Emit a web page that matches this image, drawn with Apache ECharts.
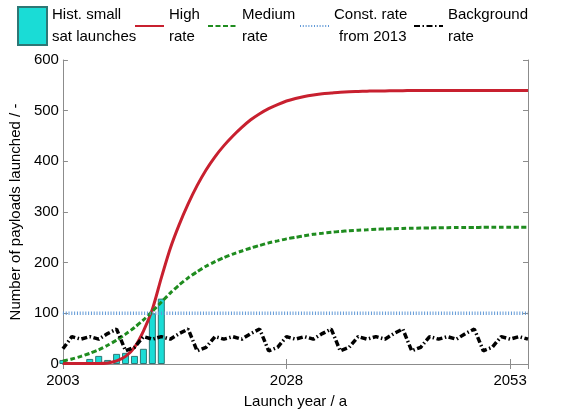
<!DOCTYPE html>
<html>
<head>
<meta charset="utf-8">
<script src="https://cdn.jsdelivr.net/npm/echarts@6/dist/echarts.min.js"></script>
<style>
  html, body { margin: 0; padding: 0; background: #fff; }
  #chart { width: 566px; height: 414px; }
</style>
</head>
<body>
<div id="chart"></div>
<script>
// Launch years covered by the scenario curves
const years = [
  2003, 2004, 2005, 2006, 2007, 2008, 2009, 2010, 2011, 2012,
  2013, 2014, 2015, 2016, 2017, 2018, 2019, 2020, 2021, 2022,
  2023, 2024, 2025, 2026, 2027, 2028, 2029, 2030, 2031, 2032,
  2033, 2034, 2035, 2036, 2037, 2038, 2039, 2040, 2041, 2042,
  2043, 2044, 2045, 2046, 2047, 2048, 2049, 2050, 2051, 2052,
  2053, 2054, 2055
];

// Historical small satellite launches per year
const histYears = [2003, 2006, 2007, 2008, 2009, 2010, 2011, 2012, 2013, 2014];
const histLaunches = [8, 10, 16, 8, 20, 22, 16, 30, 100, 129];

// High launch rate scenario (payloads per year)
const highRate = [
  1, 1, 1, 1, 1, 2, 6, 15, 33, 65,
  108, 170, 228, 275, 316, 352, 383, 409, 431, 450,
  467, 482, 494, 504, 512, 519, 524, 528, 531, 533.5,
  535, 536.5, 537.5, 538, 538.5, 539, 539, 539.5, 539.5, 539.7,
  539.8, 540, 540, 540, 540, 540, 540, 540, 540, 540,
  540, 540, 540
];

// Medium launch rate scenario
const mediumRate = [
  6, 10, 15, 21, 28, 37, 47, 59, 72, 87,
  104, 122, 140, 156, 170, 182, 193, 202, 210, 217,
  223, 229, 234, 239, 243, 247, 250, 253, 256, 258,
  260, 261.5, 263, 264, 265, 266, 266.5, 267, 267.5, 268,
  268.3, 268.6, 268.9, 269.1, 269.3, 269.5, 269.6, 269.7, 269.8, 269.9,
  270, 270, 270
];

// Constant launch rate continuing the 2013 level
const constRate = 100;

// Background launch rate
const backgroundRate = [
  30, 54, 49, 54, 49, 60, 69, 26, 33, 54,
  49, 54, 49, 60, 69, 26, 33, 54, 49, 54,
  49, 60, 69, 26, 33, 54, 49, 54, 49, 60,
  69, 26, 33, 54, 49, 54, 49, 60, 69, 26,
  33, 54, 49, 54, 49, 60, 69, 26, 33, 54,
  49, 54, 49
];

const yTicks = [0, 100, 200, 300, 400, 500, 600];
const xTickYears = [2003, 2028, 2053];

const N_HIST = 'Hist. small\nsat launches';
const N_HIGH = 'High\nrate';
const N_MED = 'Medium\nrate';
const N_CONST = 'Const. rate\nfrom 2013';
const N_BG = 'Background\nrate';

const FONT = '"Liberation Sans", Arial, Helvetica, sans-serif';
const FRAME = '#8c8c8c';

const pairs = (xs, ys) => xs.map((x, i) => [x, ys[i]]);

const chart = echarts.init(document.getElementById('chart'), null, { renderer: 'canvas' });

const legendBase = {
  top: 4,
  itemWidth: 29,
  itemHeight: 38,
  itemGap: 0,
  padding: 0,
  selectedMode: false,
  textStyle: { fontSize: 15, lineHeight: 22, color: '#000', fontFamily: FONT }
};
// line legends: show only the stroked line, no marker
const lineLegend = Object.assign({}, legendBase, { itemStyle: { opacity: 0 } });

const xCommon = {
  type: 'value',
  min: years[0],
  max: years[years.length - 1],
  interval: 25,
  splitLine: { show: false },
  axisLine: { show: true, lineStyle: { color: FRAME, width: 1 } },
  axisTick: { show: true, inside: true, length: 5, lineStyle: { color: FRAME } }
};
const yCommon = {
  type: 'value',
  min: yTicks[0],
  max: yTicks[yTicks.length - 1],
  interval: 100,
  splitLine: { show: false },
  axisLine: { show: true, lineStyle: { color: FRAME, width: 1 } },
  axisTick: { show: true, inside: true, length: 5, lineStyle: { color: FRAME } }
};

chart.setOption({
  animation: false,
  backgroundColor: '#fff',
  textStyle: { fontFamily: FONT },
  grid: { left: 59, right: 38, top: 60, bottom: 49, containLabel: false },
  legend: [
    Object.assign({}, legendBase, { left: 17, data: [{ name: N_HIST, icon: 'rect' }] }),
    Object.assign({}, lineLegend, { left: 134, data: [N_HIGH] }),
    Object.assign({}, lineLegend, { left: 207, data: [N_MED] }),
    Object.assign({}, lineLegend, {
      left: 299,
      data: [N_CONST],
      formatter: () => 'Const. rate\n{s|from 2013}',
      textStyle: Object.assign({}, legendBase.textStyle, {
        rich: { s: { fontSize: 15, lineHeight: 22, color: '#000', fontFamily: FONT, padding: [0, 0, 0, 5] } }
      })
    }),
    Object.assign({}, lineLegend, { left: 413, data: [N_BG] })
  ],
  xAxis: [
    Object.assign({}, xCommon, {
      position: 'bottom',
      name: 'Launch year / a',
      nameLocation: 'middle',
      nameGap: 30,
      nameTextStyle: { fontSize: 15, color: '#000', fontFamily: FONT },
      axisLabel: {
        fontSize: 15, color: '#000', fontFamily: FONT, margin: 9,
        formatter: v => (xTickYears.indexOf(v) >= 0 ? String(v) : '')
      }
    }),
    Object.assign({}, xCommon, { position: 'top', axisLabel: { show: false } })
  ],
  yAxis: [
    Object.assign({}, yCommon, {
      position: 'left',
      name: 'Number of payloads launched / -',
      nameLocation: 'middle',
      nameGap: 32,
      nameTextStyle: { fontSize: 15, color: '#000', fontFamily: FONT },
      axisLabel: { fontSize: 15, color: '#000', fontFamily: FONT, margin: 4 }
    }),
    Object.assign({}, yCommon, { position: 'right', axisLabel: { show: false } })
  ],
  series: [
    {
      name: N_HIST,
      type: 'bar',
      xAxisIndex: 0, yAxisIndex: 0,
      data: pairs(histYears, histLaunches),
      barWidth: 7,
      itemStyle: { color: '#1adcd6', borderColor: '#2e7775', borderWidth: 1 }
    },
    {
      name: N_HIGH,
      type: 'line',
      data: pairs(years, highRate),
      showSymbol: false, symbol: 'none',
      smooth: 0.25,
      lineStyle: { color: '#c8202f', width: 3 },
      itemStyle: { color: '#c8202f' }
    },
    {
      name: N_MED,
      type: 'line',
      data: pairs(years, mediumRate),
      showSymbol: false, symbol: 'none',
      smooth: 0.25,
      lineStyle: { color: '#1f8c1f', width: 3, type: [5, 2.5] },
      itemStyle: { color: '#1f8c1f' }
    },
    {
      name: N_CONST,
      type: 'line',
      data: years.map(y => [y, constRate]),
      showSymbol: false, symbol: 'none',
      lineStyle: { color: '#5f98d6', width: 3.5, type: [1, 1.8] },
      itemStyle: { color: '#5f98d6' }
    },
    {
      name: N_BG,
      type: 'line',
      data: pairs(years, backgroundRate),
      showSymbol: false, symbol: 'none',
      lineStyle: { color: '#000', width: 3.5, type: [6, 2.5, 1.5, 2.5] },
      itemStyle: { color: '#000' }
    }
  ]
});
</script>
</body>
</html>
